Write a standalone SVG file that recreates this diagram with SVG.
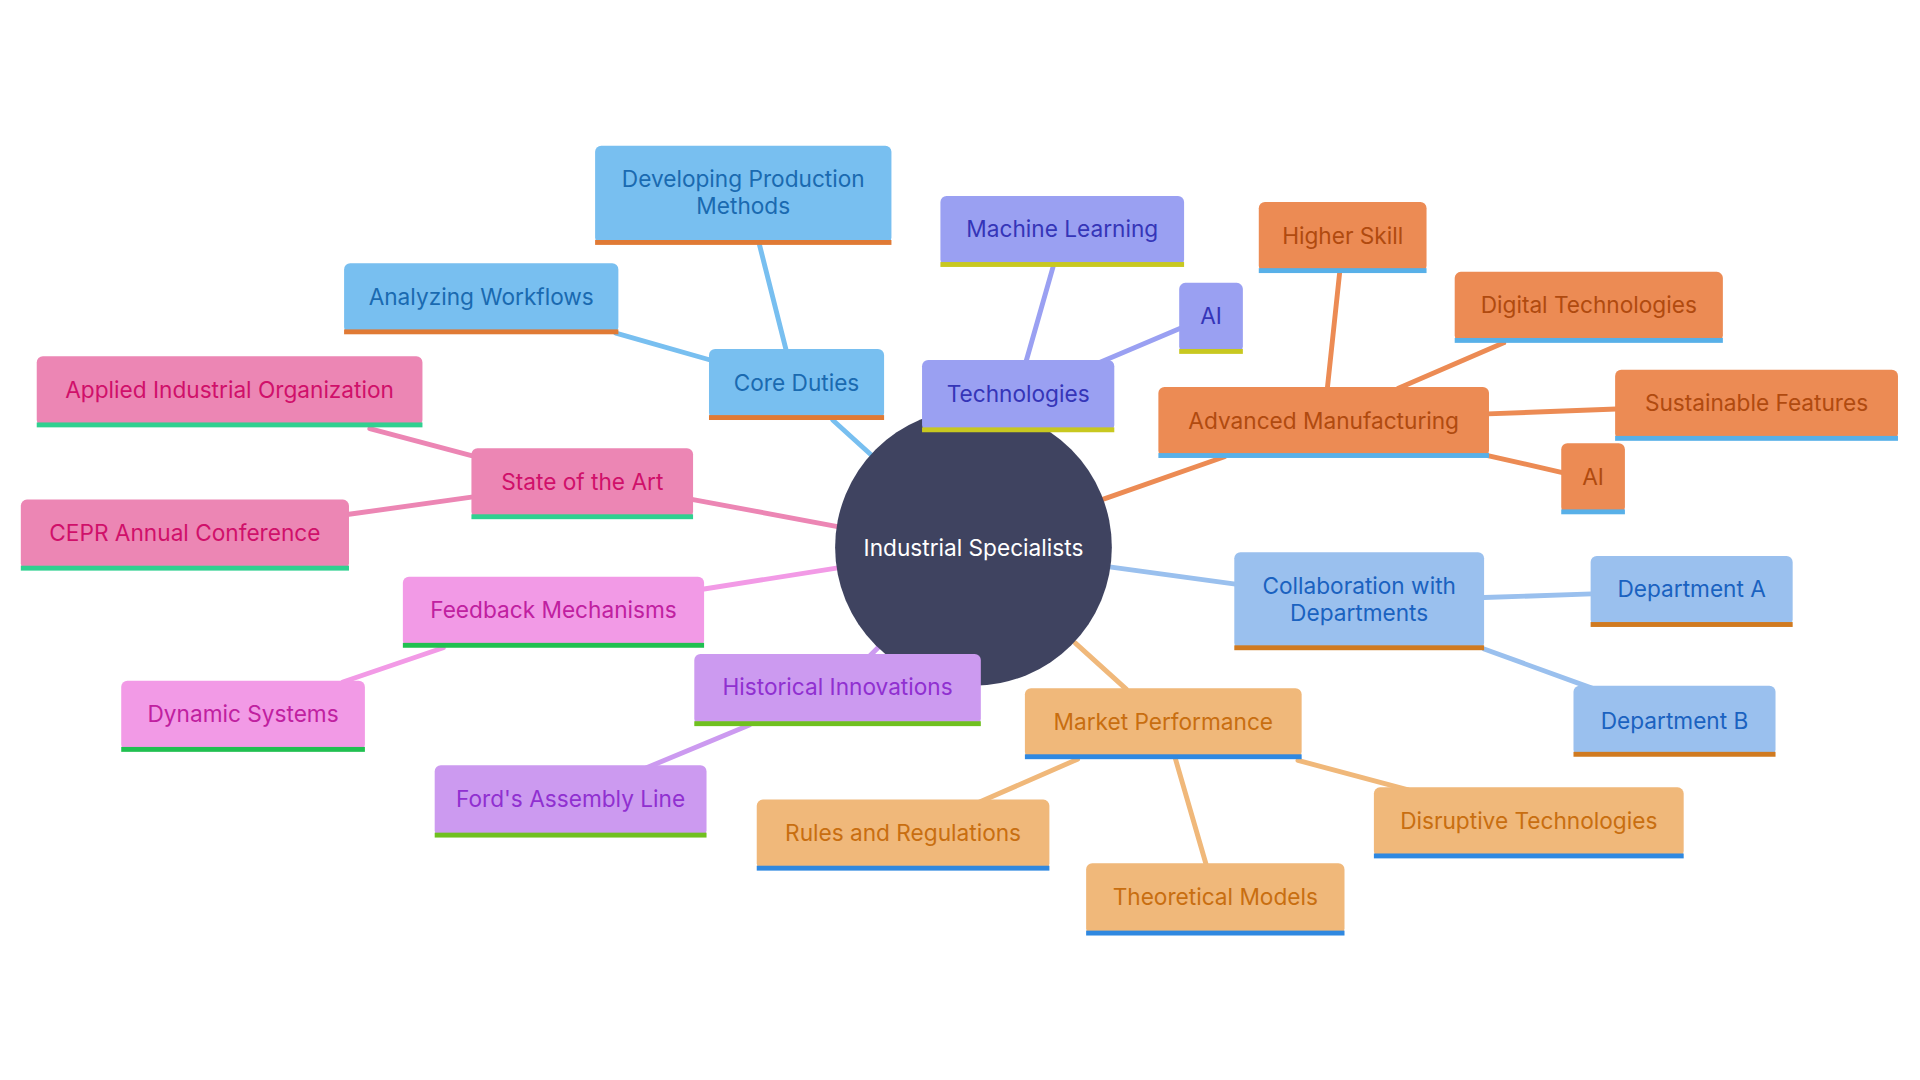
<svg xmlns="http://www.w3.org/2000/svg" width="1920" height="1080" viewBox="0 0 1920 1080">
<style>
text{font-family:Inter,"Noto Sans",sans-serif;font-size:18.5px;text-anchor:middle;dominant-baseline:central}
.e line{stroke-width:4;stroke-linecap:round}
.cd rect.b{fill:#78bff0}.cd text{fill:#1a6ab0}.cd rect.u{fill:#e07a35}
.tg rect.b{fill:#9aa0f2}.tg text{fill:#3535b8}.tg rect.u{fill:#c8c820}
.am rect.b{fill:#ec8b54}.am text{fill:#b04a0f}.am rect.u{fill:#58b0e8}
.co rect.b{fill:#9ac0ee}.co text{fill:#1a62c0}.co rect.u{fill:#d07a20}
.mp rect.b{fill:#f0b87a}.mp text{fill:#c86e10}.mp rect.u{fill:#2f88e0}
.hi rect.b{fill:#cc9af0}.hi text{fill:#9030d0}.hi rect.u{fill:#70c020}
.fb rect.b{fill:#f29ae6}.fb text{fill:#c020a0}.fb rect.u{fill:#20c050}
.sa rect.b{fill:#ec86b4}.sa text{fill:#d0106a}.sa rect.u{fill:#30d090}
</style>
<rect width="1920" height="1080" fill="#fff"/>
<g transform="scale(1.2245)">
<g class="e" id="connectors">
<line x1="712" y1="372" x2="680" y2="343" stroke="#78bff0"/>
<line x1="642" y1="286" x2="620" y2="199" stroke="#78bff0"/>
<line x1="580" y1="294" x2="503" y2="272" stroke="#78bff0"/>
<line x1="838" y1="295" x2="860" y2="218" stroke="#9aa0f2"/>
<line x1="898" y1="296" x2="964" y2="268" stroke="#9aa0f2"/>
<line x1="900" y1="408" x2="1000" y2="373" stroke="#ec8b54"/>
<line x1="1084" y1="317" x2="1094" y2="223" stroke="#ec8b54"/>
<line x1="1142" y1="317" x2="1228" y2="280" stroke="#ec8b54"/>
<line x1="1215" y1="338" x2="1320" y2="334" stroke="#ec8b54"/>
<line x1="1215" y1="372" x2="1276" y2="386" stroke="#ec8b54"/>
<line x1="906" y1="463" x2="1009" y2="477" stroke="#9ac0ee"/>
<line x1="1212" y1="488" x2="1300" y2="485" stroke="#9ac0ee"/>
<line x1="1212" y1="530" x2="1300" y2="562" stroke="#9ac0ee"/>
<line x1="878" y1="525" x2="920" y2="563" stroke="#f0b87a"/>
<line x1="880" y1="620" x2="800" y2="655" stroke="#f0b87a"/>
<line x1="960" y1="620" x2="985" y2="706" stroke="#f0b87a"/>
<line x1="1060" y1="621" x2="1150" y2="645" stroke="#f0b87a"/>
<line x1="718" y1="528" x2="710" y2="536" stroke="#cc9af0"/>
<line x1="612" y1="592" x2="528" y2="627" stroke="#cc9af0"/>
<line x1="683" y1="464" x2="575" y2="481" stroke="#f29ae6"/>
<line x1="362" y1="529" x2="280" y2="557" stroke="#f29ae6"/>
<line x1="684" y1="430" x2="566" y2="408" stroke="#ec86b4"/>
<line x1="385" y1="372" x2="302" y2="350" stroke="#ec86b4"/>
<line x1="385" y1="406" x2="285" y2="420" stroke="#ec86b4"/>
</g>
<g id="center"><circle cx="795" cy="447" r="113" fill="#3f4360"/><text x="795" y="447" fill="#fff" font-size="19">Industrial Specialists</text></g>
<g id="core" class="cd"><rect class="b" x="579" y="285" width="143" height="57" rx="5"/><rect class="u" x="579" y="339" width="143" height="4"/><text x="650.5" y="312">Core Duties</text></g>
<g id="dev" class="cd"><rect class="b" x="486" y="119" width="242" height="80" rx="5"/><rect class="u" x="486" y="196" width="242" height="4"/><text x="607" y="146">Developing Production</text><text x="607" y="168">Methods</text></g>
<g id="ana" class="cd"><rect class="b" x="281" y="215" width="224" height="57" rx="5"/><rect class="u" x="281" y="269" width="224" height="4"/><text x="393" y="242">Analyzing Workflows</text></g>
<g id="tech" class="tg"><rect class="b" x="753" y="294" width="157" height="58" rx="5"/><rect class="u" x="753" y="349" width="157" height="4"/><text x="831.5" y="321">Technologies</text></g>
<g id="ml" class="tg"><rect class="b" x="768" y="160" width="199" height="57" rx="5"/><rect class="u" x="768" y="214" width="199" height="4"/><text x="867.5" y="187">Machine Learning</text></g>
<g id="ai1" class="tg"><rect class="b" x="963" y="231" width="52" height="57" rx="5"/><rect class="u" x="963" y="285" width="52" height="4"/><text x="989" y="258">AI</text></g>
<g id="adv" class="am"><rect class="b" x="946" y="316" width="270" height="57" rx="5"/><rect class="u" x="946" y="370" width="270" height="4"/><text x="1081" y="343">Advanced Manufacturing</text></g>
<g id="hs" class="am"><rect class="b" x="1028" y="165" width="137" height="57" rx="5"/><rect class="u" x="1028" y="219" width="137" height="4"/><text x="1096.5" y="192">Higher Skill</text></g>
<g id="dt" class="am"><rect class="b" x="1188" y="222" width="219" height="57" rx="5"/><rect class="u" x="1188" y="276" width="219" height="4"/><text x="1297.5" y="249">Digital Technologies</text></g>
<g id="sf" class="am"><rect class="b" x="1319" y="302" width="231" height="57" rx="5"/><rect class="u" x="1319" y="356" width="231" height="4"/><text x="1434.5" y="329">Sustainable Features</text></g>
<g id="ai2" class="am"><rect class="b" x="1275" y="362" width="52" height="57" rx="5"/><rect class="u" x="1275" y="416" width="52" height="4"/><text x="1301" y="389">AI</text></g>
<g id="col" class="co"><rect class="b" x="1008" y="451" width="204" height="79" rx="5"/><rect class="u" x="1008" y="527" width="204" height="4"/><text x="1110" y="478">Collaboration with</text><text x="1110" y="500">Departments</text></g>
<g id="da" class="co"><rect class="b" x="1299" y="454" width="165" height="57" rx="5"/><rect class="u" x="1299" y="508" width="165" height="4"/><text x="1381.5" y="481">Department A</text></g>
<g id="db" class="co"><rect class="b" x="1285" y="560" width="165" height="57" rx="5"/><rect class="u" x="1285" y="614" width="165" height="4"/><text x="1367.5" y="588">Department B</text></g>
<g id="mkt" class="mp"><rect class="b" x="837" y="562" width="226" height="57" rx="5"/><rect class="u" x="837" y="616" width="226" height="4"/><text x="950" y="589">Market Performance</text></g>
<g id="rr" class="mp"><rect class="b" x="618" y="653" width="239" height="57" rx="5"/><rect class="u" x="618" y="707" width="239" height="4"/><text x="737.5" y="680">Rules and Regulations</text></g>
<g id="tm" class="mp"><rect class="b" x="887" y="705" width="211" height="58" rx="5"/><rect class="u" x="887" y="760" width="211" height="4"/><text x="992.5" y="732">Theoretical Models</text></g>
<g id="dis" class="mp"><rect class="b" x="1122" y="643" width="253" height="57" rx="5"/><rect class="u" x="1122" y="697" width="253" height="4"/><text x="1248.5" y="670">Disruptive Technologies</text></g>
<g id="hist" class="hi"><rect class="b" x="567" y="534" width="234" height="58" rx="5"/><rect class="u" x="567" y="589" width="234" height="4"/><text x="684" y="561">Historical Innovations</text></g>
<g id="ford" class="hi"><rect class="b" x="355" y="625" width="222" height="58" rx="5"/><rect class="u" x="355" y="680" width="222" height="4"/><text x="466" y="652">Ford's Assembly Line</text></g>
<g id="fbm" class="fb"><rect class="b" x="329" y="471" width="246" height="57" rx="5"/><rect class="u" x="329" y="525" width="246" height="4"/><text x="452" y="498">Feedback Mechanisms</text></g>
<g id="dyn" class="fb"><rect class="b" x="99" y="556" width="199" height="57" rx="5"/><rect class="u" x="99" y="610" width="199" height="4"/><text x="198.5" y="583">Dynamic Systems</text></g>
<g id="sota" class="sa"><rect class="b" x="385" y="366" width="181" height="57" rx="5"/><rect class="u" x="385" y="420" width="181" height="4"/><text x="475.5" y="393">State of the Art</text></g>
<g id="aio" class="sa"><rect class="b" x="30" y="291" width="315" height="57" rx="5"/><rect class="u" x="30" y="345" width="315" height="4"/><text x="187.5" y="318">Applied Industrial Organization</text></g>
<g id="cepr" class="sa"><rect class="b" x="17" y="408" width="268" height="57" rx="5"/><rect class="u" x="17" y="462" width="268" height="4"/><text x="151" y="435">CEPR Annual Conference</text></g>
</g>
</svg>
